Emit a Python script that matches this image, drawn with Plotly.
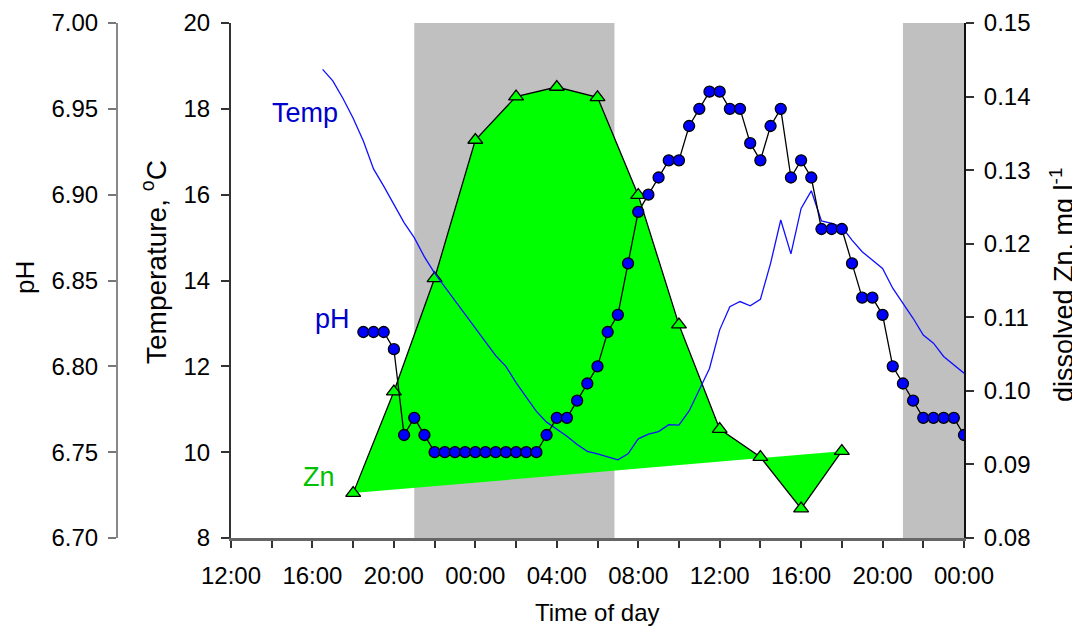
import pandas as pd
import plotly.graph_objects as go

# ---------------- data ----------------
# Zn sampled every 2 h from 18:00 (day 1) to 18:00 (day 2), mg/l
zn_times = pd.date_range("2000-01-01 18:00", "2000-01-02 18:00", freq="2h")
zn_values = [0.0861, 0.0999, 0.1153, 0.1341, 0.1400, 0.1413, 0.1399,
             0.1266, 0.1090, 0.0948, 0.0910, 0.0840, 0.0918]

# Temperature every 30 min from 16:30 (day 1) to 00:00 (day 3), deg C
temp_times = pd.date_range("2000-01-01 16:30", "2000-01-03 00:00", freq="30min")
temp_values = [18.92, 18.65, 18.24, 17.78, 17.25, 16.60, 16.20, 15.78, 15.35, 15.00,
               14.55, 14.17, 13.85, 13.52, 13.20, 12.88, 12.55, 12.25, 12.00, 11.62,
               11.28, 10.95, 10.70, 10.54, 10.37, 10.18, 10.02, 9.96, 9.89, 9.82,
               9.96, 10.31, 10.42, 10.48, 10.64, 10.63, 10.96, 11.45, 11.95, 12.85,
               13.39, 13.51, 13.41, 13.56, 14.40, 15.41, 14.62, 15.68, 16.09, 15.39,
               15.33, 15.25, 14.94, 14.67, 14.48, 14.28, 13.82, 13.47, 13.12, 12.73,
               12.54, 12.23, 12.03, 11.84]

# pH every 30 min from 18:30 (day 1) to 00:00 (day 3)
ph_times = pd.date_range("2000-01-01 18:30", "2000-01-03 00:00", freq="30min")
ph_values = [6.82, 6.82, 6.82, 6.81, 6.76, 6.77, 6.76,
             6.75, 6.75, 6.75, 6.75, 6.75, 6.75, 6.75, 6.75, 6.75, 6.75, 6.75,
             6.76, 6.77, 6.77, 6.78, 6.79, 6.80, 6.82, 6.83, 6.86, 6.89,
             6.90, 6.91, 6.92, 6.92, 6.94, 6.95, 6.96, 6.96,
             6.95, 6.95, 6.93, 6.92, 6.94, 6.95, 6.91, 6.92,
             6.91, 6.88, 6.88, 6.88, 6.86, 6.84, 6.84, 6.83,
             6.80, 6.79, 6.78, 6.77, 6.77, 6.77, 6.77, 6.76]

# night periods (shaded)
night_periods = [("2000-01-01 21:00", "2000-01-02 06:50"),
                 ("2000-01-02 21:00", "2000-01-03 00:00")]

x_range = ["2000-01-01 12:00", "2000-01-03 00:00"]
zn_range = [0.08, 0.15]
temp_range = [8, 20]
ph_range = [6.70, 7.00]

# ---------------- layout helpers ----------------
# the page body has an 8 px margin, so the figure is 8 px smaller and offset
OFF = 8
W, H = 1080 - OFF, 627 - OFF
def px(x):
    return (x - OFF) / W
def py(y):
    return 1 - (y - OFF) / H

PLOT_L, PLOT_R, PLOT_T, PLOT_B = 231, 964, 23, 538
FONT = "Liberation Sans, Arial, sans-serif"
TICK = 24

fig = go.Figure()

# Zn filled polygon
fig.add_trace(go.Scatter(x=zn_times, y=zn_values, fill="toself", fillcolor="#00FF00",
                         mode="none", yaxis="y", hoverinfo="skip", showlegend=False))
# Zn line + triangles
fig.add_trace(go.Scatter(x=zn_times, y=zn_values, mode="lines+markers", yaxis="y",
                         line=dict(color="black", width=1.3),
                         marker=dict(symbol="triangle-up", size=13, color="#00FF00",
                                     line=dict(color="black", width=1.3)),
                         showlegend=False))
# Temperature line
fig.add_trace(go.Scatter(x=temp_times, y=temp_values, mode="lines", yaxis="y2",
                         line=dict(color="#1010FF", width=1.3), showlegend=False))
# pH
fig.add_trace(go.Scatter(x=ph_times, y=ph_values, mode="lines+markers", yaxis="y3",
                         line=dict(color="black", width=1.3),
                         marker=dict(symbol="circle", size=11, color="#0000FF",
                                     line=dict(color="black", width=1.3)),
                         showlegend=False))

shapes = []
for a, b in night_periods:
    shapes.append(dict(type="rect", xref="x", yref="y", x0=a, x1=b,
                       y0=zn_range[0], y1=zn_range[1], fillcolor="#C0C0C0",
                       line=dict(width=0), layer="below"))

annotations = [
    dict(text="Time of day", x=px(597.5), y=py(612), xref="paper", yref="paper",
         showarrow=False, font=dict(size=24, color="black", family=FONT),
         xanchor="center", yanchor="middle"),
    dict(text="pH", x=px(25), y=py(278), xref="paper", yref="paper", textangle=-90,
         showarrow=False, font=dict(size=26, color="black", family=FONT),
         xanchor="center", yanchor="middle"),
    dict(text="Temperature, <sup>o</sup>C", x=px(154), y=py(262), xref="paper", yref="paper",
         textangle=-90, showarrow=False, font=dict(size=28, color="black", family=FONT),
         xanchor="center", yanchor="middle"),
    dict(text="dissolved Zn, mg l<sup>-1</sup>", x=px(1062), y=py(285), xref="paper",
         yref="paper", textangle=-90, showarrow=False,
         font=dict(size=27, color="black", family=FONT), xanchor="center", yanchor="middle"),
    dict(text="Temp", x=px(305), y=py(113), xref="paper", yref="paper", showarrow=False,
         font=dict(size=27, color="#0000CC", family=FONT), xanchor="center", yanchor="middle"),
    dict(text="pH", x=px(332), y=py(319), xref="paper", yref="paper", showarrow=False,
         font=dict(size=27, color="#0000CC", family=FONT), xanchor="center", yanchor="middle"),
    dict(text="Zn", x=px(319), y=py(477), xref="paper", yref="paper", showarrow=False,
         font=dict(size=27, color="#00C000", family=FONT), xanchor="center", yanchor="middle"),
]

ydom = [py(PLOT_B), py(PLOT_T)]

fig.update_layout(
    width=W, height=H,
    margin=dict(l=0, r=0, t=0, b=0, autoexpand=False),
    plot_bgcolor="white", paper_bgcolor="white",
    font=dict(family=FONT, size=TICK, color="black"),
    showlegend=False,
    shapes=shapes,
    annotations=annotations,
    xaxis=dict(domain=[px(PLOT_L), px(PLOT_R)], type="date", range=x_range,
               tick0="2000-01-01 12:00", dtick=4 * 3600 * 1000, tickformat="%H:%M",
               ticks="outside", ticklen=7, tickwidth=1.5, tickcolor="#333333",
               minor=dict(dtick=2 * 3600 * 1000, ticks="outside", ticklen=7,
                          tickwidth=1.5, tickcolor="#333333"),
               ticklabelstandoff=7,
               showline=True, linecolor="#666666", linewidth=2.5,
               showgrid=False, zeroline=False, anchor="y",
               tickfont=dict(size=TICK, family=FONT), automargin=False),
    yaxis=dict(domain=ydom, range=zn_range, side="right", anchor="x",
               dtick=0.01, tickformat=".2f", ticks="outside", ticklen=8, tickwidth=1.5,
               tickcolor="#333333", showline=True, linecolor="#111111", linewidth=2,
               ticklabelstandoff=5,
               showgrid=False, zeroline=False, tickfont=dict(size=TICK, family=FONT),
               automargin=False),
    yaxis2=dict(domain=ydom, range=temp_range, side="left", anchor="x", overlaying="y",
                dtick=2, ticks="outside", ticklen=8, tickwidth=1.5, tickcolor="#333333",
                showline=True, linecolor="#333333", linewidth=2, ticklabelstandoff=6,
                showgrid=False, zeroline=False, tickfont=dict(size=TICK, family=FONT),
                automargin=False),
    yaxis3=dict(domain=ydom, range=ph_range, side="left", anchor="free", overlaying="y",
                position=px(117), dtick=0.05, tickformat=".2f", ticks="outside", ticklen=8,
                tickwidth=1.5, tickcolor="#777777", showline=True, linecolor="#888888",
                linewidth=2, showgrid=False, zeroline=False, ticklabelstandoff=5,
                tickfont=dict(size=TICK, family=FONT), automargin=False),
)

fig.write_html("out.html")
